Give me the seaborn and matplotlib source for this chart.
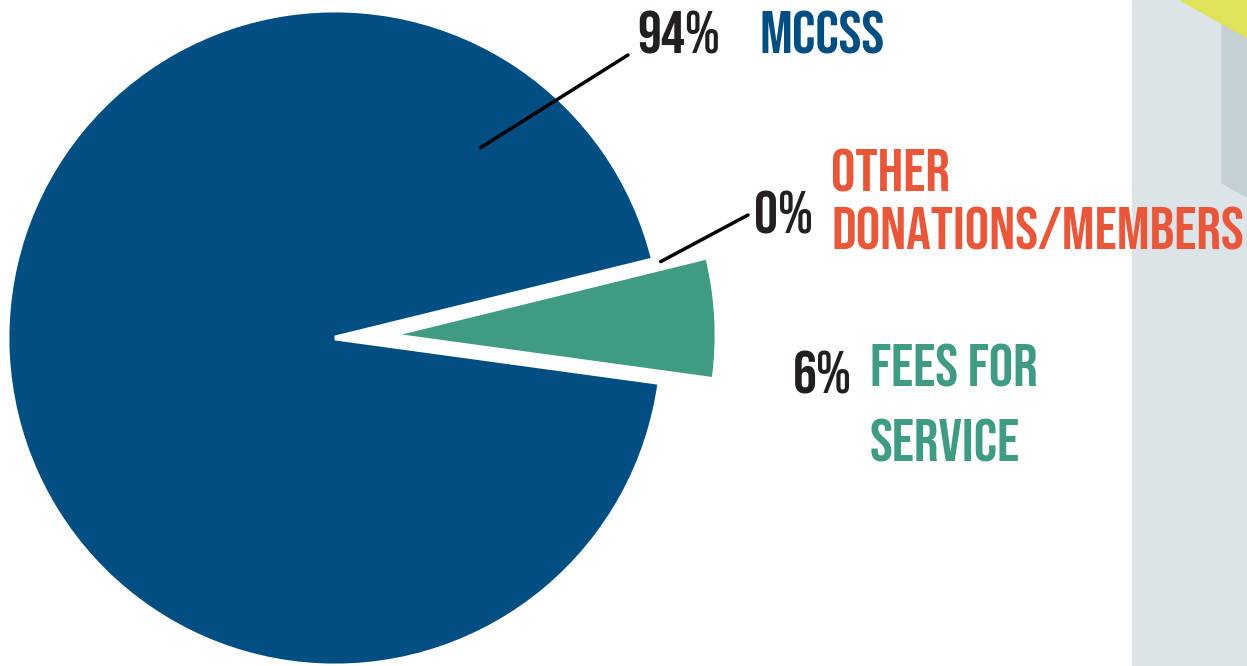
import matplotlib
matplotlib.use("Agg")
import matplotlib.pyplot as plt
import seaborn as sns
import numpy as np
from matplotlib.patches import Rectangle, Polygon

sns.set_theme(style="white")
plt.rcParams['font.family'] = ['Bebas Neue', 'Oswald', 'DejaVu Sans']

# ---- data ----
categories = ["MCCSS", "OTHER\nDONATIONS/MEMBERS", "FEES FOR\nSERVICE"]
values = [94, 0, 6]
pct_labels = ["94%", "0%", "6%"]
colors = ["#004e82", "#e8573a", "#409b84"]

W, H = 1247, 666
fig = plt.figure(figsize=(W / 100, H / 100), dpi=100)

# decorative right-hand panel
fig.patches.append(Rectangle((1132 / W, 0), 1 - 1132 / W, 1, transform=fig.transFigure,
                             color="#dde4e7", zorder=0))
fig.patches.append(Polygon([(1222 / W, 1 - 25 / H), (1, 1 - 25 / H), (1, 1 - 197 / H),
                            (1222 / W, 1 - 183 / H)], closed=True, transform=fig.transFigure,
                           color="#c5d0d5", zorder=0))
fig.patches.append(Polygon([(1180 / W, 1), (1, 1), (1, 1 - 37 / H)], closed=True,
                           transform=fig.transFigure, color="#dfe35a", zorder=0))

ax = fig.add_axes([7 / W, 0, 656 / W, 656 / H])
ax.set_facecolor("none")

nz = [i for i, v in enumerate(values) if v > 0]
explode = [0.165 if categories[i].startswith("FEES") else 0 for i in nz]
wedges, _ = ax.pie([values[i] for i in nz], colors=[colors[i] for i in nz],
                   startangle=13.8, counterclock=True, explode=explode,
                   wedgeprops=dict(edgecolor="white", linewidth=3.5))
ax.set_xlim(-1, 1)
ax.set_ylim(-1, 1)
ax.set_aspect("equal")
ax.axis("off")

wd = {categories[i]: w for i, w in zip(nz, wedges)}
blue = wd["MCCSS"]
green = wd["FEES FOR\nSERVICE"]

def pt(center, r, ang):
    a = np.deg2rad(ang)
    return (center[0] + r * np.cos(a), center[1] + r * np.sin(a))

text_color = "#231f20"

# leader lines
starts = [pt(blue.center, 0.73, 52.6), pt(blue.center, 1.02, blue.theta1 - 0.6),
          pt(green.center, 0.97, -2.3)]
ends_fig = [(628 / W, 1 - 55 / H), (748 / W, 1 - 215 / H), (778 / W, 1 - 372 / H)]
for s, e in zip(starts, ends_fig):
    ax.annotate("", xy=s, xytext=e, textcoords="figure fraction",
                arrowprops=dict(arrowstyle="-", color="black", lw=2.5, shrinkA=0, shrinkB=0))

pkw = dict(fontsize=43, va="baseline", ha="left", color=text_color)
ckw = dict(fontsize=44, va="baseline", ha="left")
fig.text(637 / W, 1 - 53 / H, pct_labels[0], **pkw)
fig.text(760 / W, 1 - 53 / H, categories[0], color=colors[0], **ckw)
fig.text(754 / W, 1 - 233 / H, pct_labels[1], **pkw)
l1, l2 = categories[1].split("\n")
fig.text(831 / W, 1 - 192 / H, l1, color=colors[1], **ckw)
fig.text(831 / W, 1 - 250 / H, l2, color=colors[1], **ckw)
fig.text(793 / W, 1 - 393 / H, pct_labels[2], **pkw)
g1, g2 = categories[2].split("\n")
fig.text(870 / W, 1 - 387 / H, g1, color=colors[2], **ckw)
fig.text(870 / W, 1 - 462 / H, g2, color=colors[2], **ckw)

fig.savefig("out.png", dpi=100, facecolor="white")
